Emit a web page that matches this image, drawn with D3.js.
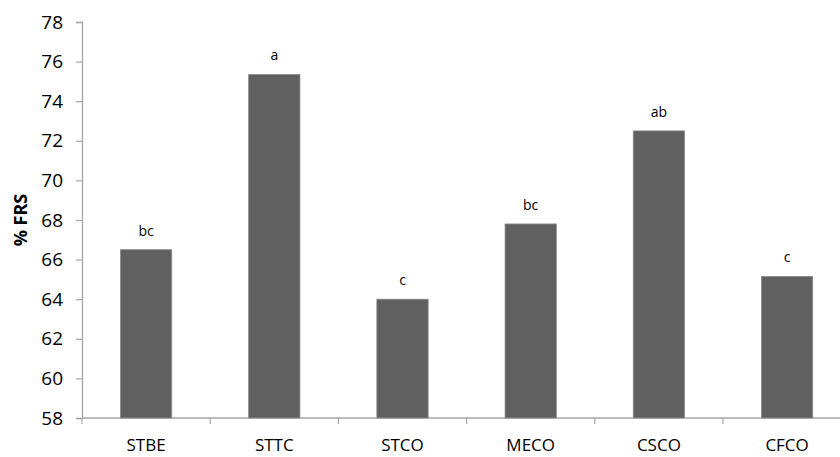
<!DOCTYPE html>
<html>
<head>
<meta charset="utf-8">
<script src="https://cdn.jsdelivr.net/npm/d3@7"></script>
<style>
  body { margin: 0; background: #fff; }
  text { font-family: "Open Sans", "DejaVu Sans", sans-serif; fill: #000; }
</style>
</head>
<body>
<svg id="chart" width="840" height="457"></svg>
<script>
// data
const categories = ["STBE", "STTC", "STCO", "MECO", "CSCO", "CFCO"];
const values = [66.5, 75.35, 64.0, 67.8, 72.5, 65.15];
const letters = ["bc", "a", "c", "bc", "ab", "c"];
const yTicks = [58, 60, 62, 64, 66, 68, 70, 72, 74, 76, 78];

const svg = d3.select("#chart");
const mLeft = 82, mTop = 22, mBottom = 418;
const catWidth = 128.2;

// scales
const x = d3.scaleBand()
  .domain(categories)
  .range([mLeft, mLeft + catWidth * categories.length])
  .paddingInner(0.6)
  .paddingOuter(0.3);

const y = d3.scaleLinear()
  .domain([58, 78])
  .range([mBottom, mTop]);

// y axis
const yAxis = svg.append("g")
  .attr("transform", `translate(${mLeft},0)`)
  .call(d3.axisLeft(y).tickValues(yTicks).tickSize(6).tickPadding(13));
yAxis.select(".domain").attr("stroke", "#a6a6a6").attr("stroke-width", 1.3);
yAxis.selectAll(".tick line").attr("stroke", "#a6a6a6").attr("stroke-width", 1.2);
yAxis.selectAll(".tick text")
  .style("font-size", "19px")
  .attr("fill", "#000");

// x axis: line plus ticks between categories
svg.append("line")
  .attr("x1", mLeft).attr("x2", 840)
  .attr("y1", mBottom).attr("y2", mBottom)
  .attr("stroke", "#a6a6a6").attr("stroke-width", 1.3);

svg.selectAll(".xtick")
  .data(d3.range(categories.length + 1))
  .join("line")
  .attr("class", "xtick")
  .attr("x1", (i) => mLeft + i * catWidth)
  .attr("x2", (i) => mLeft + i * catWidth)
  .attr("y1", mBottom)
  .attr("y2", mBottom + 6)
  .attr("stroke", "#a6a6a6").attr("stroke-width", 1.2);

svg.selectAll(".xlabel")
  .data(categories)
  .join("text")
  .attr("class", "xlabel")
  .attr("x", (d) => x(d) + x.bandwidth() / 2)
  .attr("y", 451)
  .attr("text-anchor", "middle")
  .style("font-size", "17px")
  .text((d) => d);

// bars
svg.selectAll(".bar")
  .data(values)
  .join("rect")
  .attr("class", "bar")
  .attr("x", (d, i) => x(categories[i]))
  .attr("width", x.bandwidth())
  .attr("y", (d) => y(d))
  .attr("height", (d) => y(58) - y(d))
  .attr("fill", "#606060")
  .attr("stroke", "#8a8a8a")
  .attr("stroke-width", 0.8);

// significance letters
svg.selectAll(".letter")
  .data(values)
  .join("text")
  .attr("class", "letter")
  .attr("x", (d, i) => x(categories[i]) + x.bandwidth() / 2)
  .attr("y", (d) => y(d) - 14)
  .attr("text-anchor", "middle")
  .style("font-size", "14px")
  .text((d, i) => letters[i]);

// y axis title
svg.append("text")
  .attr("transform", `translate(27,${(mTop + mBottom) / 2}) rotate(-90)`)
  .attr("text-anchor", "middle")
  .style("font-size", "18px")
  .style("font-weight", "bold")
  .text("% FRS");
</script>
</body>
</html>
